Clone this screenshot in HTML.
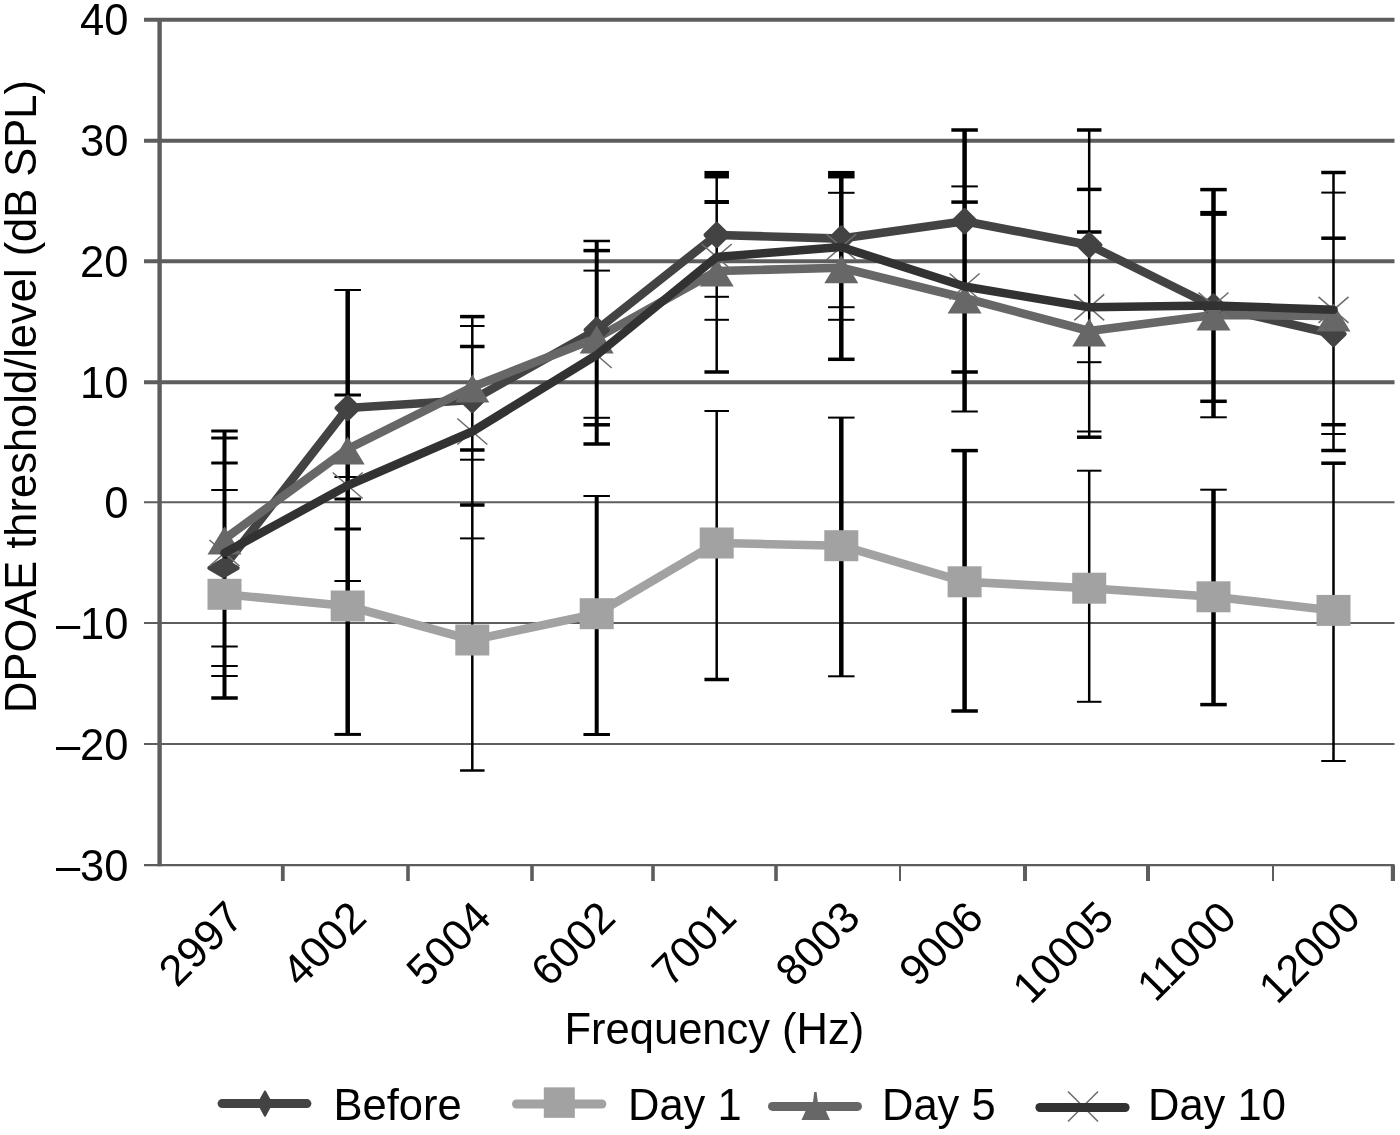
<!DOCTYPE html>
<html lang="en"><head><meta charset="utf-8"><title>DPOAE threshold/level chart</title>
<style>html,body{margin:0;padding:0;background:#fff}body{width:1400px;height:1135px;overflow:hidden}svg{display:block}text{font-family:"Liberation Sans", Arial, Helvetica, sans-serif;font-size:43.5px;fill:#000}</style></head><body>
<svg width="1400" height="1135" viewBox="0 0 1400 1135">
<defs><filter id="soft" x="0" y="0" width="100%" height="100%" filterUnits="userSpaceOnUse" color-interpolation-filters="sRGB"><feGaussianBlur stdDeviation="0.6"/></filter></defs>
<g filter="url(#soft)">
<rect width="1400" height="1135" fill="#fff"/>
<g stroke="#5d5d5d" fill="none">
<line x1="144" y1="19.8" x2="1394.5" y2="19.8" stroke-width="4.1"/>
<line x1="144" y1="140.8" x2="1394.5" y2="140.8" stroke-width="4.1"/>
<line x1="144" y1="261.3" x2="1394.5" y2="261.3" stroke-width="4.1"/>
<line x1="144" y1="382.3" x2="1394.5" y2="382.3" stroke-width="4.1"/>
<line x1="144" y1="502.3" x2="1394.5" y2="502.3" stroke-width="2"/>
<line x1="144" y1="623.1" x2="1394.5" y2="623.1" stroke-width="2"/>
<line x1="144" y1="744.1" x2="1394.5" y2="744.1" stroke-width="2"/>
<line x1="144" y1="865.1" x2="1394.5" y2="865.1" stroke-width="2.2"/>
<line x1="159.6" y1="18" x2="159.6" y2="866.2" stroke-width="4.4"/>
<line x1="282.8" y1="865" x2="282.8" y2="881" stroke-width="3.8"/>
<line x1="408" y1="865" x2="408" y2="881" stroke-width="3.6"/>
<line x1="532" y1="865" x2="532" y2="881" stroke-width="3.6"/>
<line x1="653" y1="865" x2="653" y2="881" stroke-width="3.6"/>
<line x1="776" y1="865" x2="776" y2="881" stroke-width="3.6"/>
<line x1="900" y1="865" x2="900" y2="881" stroke-width="2"/>
<line x1="1025" y1="865" x2="1025" y2="881" stroke-width="4"/>
<line x1="1148" y1="865" x2="1148" y2="881" stroke-width="4"/>
<line x1="1273" y1="865" x2="1273" y2="881" stroke-width="2"/>
<line x1="1392.9" y1="865" x2="1392.9" y2="881" stroke-width="4.2"/>
</g>
<polyline points="224.5,566 347.7,408 472.3,400 596.7,330 716.7,235 841.3,238.6 964.6,221.2 1089.2,245 1213.5,306.5 1333.5,334" fill="none" stroke="#434343" stroke-width="8.6" stroke-linejoin="round" stroke-linecap="round"/>
<polyline points="224.5,594.3 347.7,606 472.3,640 596.7,613.7 716.7,543 841.3,545.7 964.6,581.8 1089.2,588.2 1213.5,596.8 1333.5,610.4" fill="none" stroke="#a2a2a2" stroke-width="8.6" stroke-linejoin="round" stroke-linecap="round"/>
<polyline points="224.5,539 347.7,449 472.3,387 596.7,338 716.7,271 841.3,267.7 964.6,298 1089.2,331 1213.5,315 1333.5,316" fill="none" stroke="#676767" stroke-width="8.6" stroke-linejoin="round" stroke-linecap="round"/>
<g stroke="#000" fill="none">
<line x1="224.5" y1="431" x2="224.5" y2="698" stroke-width="4"/>
<line x1="211.25" y1="431" x2="237.75" y2="431" stroke-width="3"/>
<line x1="211.25" y1="438" x2="237.75" y2="438" stroke-width="3"/>
<line x1="211.25" y1="463" x2="237.75" y2="463" stroke-width="3"/>
<line x1="211.25" y1="490" x2="237.75" y2="490" stroke-width="2"/>
<line x1="211.25" y1="646.5" x2="237.75" y2="646.5" stroke-width="2"/>
<line x1="211.25" y1="666" x2="237.75" y2="666" stroke-width="2"/>
<line x1="211.25" y1="676" x2="237.75" y2="676" stroke-width="2"/>
<line x1="211.25" y1="698" x2="237.75" y2="698" stroke-width="3.5"/>
<line x1="347.7" y1="290" x2="347.7" y2="734" stroke-width="4.5"/>
<line x1="334.45" y1="290" x2="360.95" y2="290" stroke-width="2"/>
<line x1="334.45" y1="395" x2="360.95" y2="395" stroke-width="3"/>
<line x1="334.45" y1="477" x2="360.95" y2="477" stroke-width="2"/>
<line x1="334.45" y1="499" x2="360.95" y2="499" stroke-width="3"/>
<line x1="334.45" y1="529" x2="360.95" y2="529" stroke-width="3"/>
<line x1="334.45" y1="581" x2="360.95" y2="581" stroke-width="2"/>
<line x1="334.45" y1="734.4" x2="360.95" y2="734.4" stroke-width="3"/>
<line x1="472.3" y1="316" x2="472.3" y2="770" stroke-width="2.5"/>
<line x1="460.05" y1="316.6" x2="484.55" y2="316.6" stroke-width="3.5"/>
<line x1="460.05" y1="326" x2="484.55" y2="326" stroke-width="2"/>
<line x1="460.05" y1="346.5" x2="484.55" y2="346.5" stroke-width="3.5"/>
<line x1="460.05" y1="450" x2="484.55" y2="450" stroke-width="3.5"/>
<line x1="460.05" y1="459.7" x2="484.55" y2="459.7" stroke-width="2"/>
<line x1="460.05" y1="505" x2="484.55" y2="505" stroke-width="3.5"/>
<line x1="460.05" y1="538.4" x2="484.55" y2="538.4" stroke-width="2"/>
<line x1="460.05" y1="770.5" x2="484.55" y2="770.5" stroke-width="2.5"/>
<line x1="596.7" y1="241" x2="596.7" y2="444" stroke-width="4"/>
<line x1="596.7" y1="496" x2="596.7" y2="734" stroke-width="4"/>
<line x1="583.45" y1="241" x2="609.95" y2="241" stroke-width="2.5"/>
<line x1="583.45" y1="250.6" x2="609.95" y2="250.6" stroke-width="3.5"/>
<line x1="583.45" y1="270.6" x2="609.95" y2="270.6" stroke-width="2"/>
<line x1="583.45" y1="417.8" x2="609.95" y2="417.8" stroke-width="2"/>
<line x1="583.45" y1="424.8" x2="609.95" y2="424.8" stroke-width="3.5"/>
<line x1="583.45" y1="444" x2="609.95" y2="444" stroke-width="3.5"/>
<line x1="583.45" y1="496" x2="609.95" y2="496" stroke-width="2"/>
<line x1="583.45" y1="734.5" x2="609.95" y2="734.5" stroke-width="3"/>
<line x1="716.7" y1="175" x2="716.7" y2="372" stroke-width="2.5"/>
<line x1="716.7" y1="411" x2="716.7" y2="679.5" stroke-width="2.5"/>
<line x1="704.45" y1="174.7" x2="728.95" y2="174.7" stroke-width="7.5"/>
<line x1="704.45" y1="202" x2="728.95" y2="202" stroke-width="4"/>
<line x1="704.45" y1="296.8" x2="728.95" y2="296.8" stroke-width="2"/>
<line x1="704.45" y1="319.8" x2="728.95" y2="319.8" stroke-width="2"/>
<line x1="704.45" y1="372" x2="728.95" y2="372" stroke-width="3.5"/>
<line x1="704.45" y1="411" x2="728.95" y2="411" stroke-width="2"/>
<line x1="704.45" y1="679.5" x2="728.95" y2="679.5" stroke-width="3.5"/>
<line x1="841.3" y1="175" x2="841.3" y2="359" stroke-width="4.5"/>
<line x1="841.3" y1="417.6" x2="841.3" y2="676" stroke-width="4.5"/>
<line x1="828.05" y1="174.7" x2="854.55" y2="174.7" stroke-width="7.5"/>
<line x1="828.05" y1="192.8" x2="854.55" y2="192.8" stroke-width="2"/>
<line x1="828.05" y1="307.2" x2="854.55" y2="307.2" stroke-width="2"/>
<line x1="828.05" y1="319.8" x2="854.55" y2="319.8" stroke-width="2"/>
<line x1="828.05" y1="359.3" x2="854.55" y2="359.3" stroke-width="3.5"/>
<line x1="828.05" y1="417.6" x2="854.55" y2="417.6" stroke-width="2"/>
<line x1="828.05" y1="676.3" x2="854.55" y2="676.3" stroke-width="2"/>
<line x1="964.6" y1="130" x2="964.6" y2="411.5" stroke-width="4.5"/>
<line x1="964.6" y1="450.6" x2="964.6" y2="711" stroke-width="4.5"/>
<line x1="951.35" y1="130" x2="977.85" y2="130" stroke-width="3.5"/>
<line x1="951.35" y1="186.4" x2="977.85" y2="186.4" stroke-width="2"/>
<line x1="951.35" y1="202.1" x2="977.85" y2="202.1" stroke-width="3.5"/>
<line x1="951.35" y1="372" x2="977.85" y2="372" stroke-width="3.5"/>
<line x1="951.35" y1="411.5" x2="977.85" y2="411.5" stroke-width="2"/>
<line x1="951.35" y1="450.6" x2="977.85" y2="450.6" stroke-width="3.5"/>
<line x1="951.35" y1="711" x2="977.85" y2="711" stroke-width="3.5"/>
<line x1="1089.2" y1="130" x2="1089.2" y2="437" stroke-width="2.5"/>
<line x1="1089.2" y1="470.7" x2="1089.2" y2="701.8" stroke-width="2.5"/>
<line x1="1076.95" y1="130" x2="1101.45" y2="130" stroke-width="3.5"/>
<line x1="1076.95" y1="189.4" x2="1101.45" y2="189.4" stroke-width="3.5"/>
<line x1="1076.95" y1="232" x2="1101.45" y2="232" stroke-width="3.5"/>
<line x1="1076.95" y1="362.2" x2="1101.45" y2="362.2" stroke-width="2"/>
<line x1="1076.95" y1="431.5" x2="1101.45" y2="431.5" stroke-width="2"/>
<line x1="1076.95" y1="437.2" x2="1101.45" y2="437.2" stroke-width="3.5"/>
<line x1="1076.95" y1="470.7" x2="1101.45" y2="470.7" stroke-width="2"/>
<line x1="1076.95" y1="701.8" x2="1101.45" y2="701.8" stroke-width="2"/>
<line x1="1213.5" y1="190" x2="1213.5" y2="417" stroke-width="4.5"/>
<line x1="1213.5" y1="489.7" x2="1213.5" y2="704.6" stroke-width="4.5"/>
<line x1="1200.25" y1="189.6" x2="1226.75" y2="189.6" stroke-width="3.5"/>
<line x1="1200.25" y1="213.4" x2="1226.75" y2="213.4" stroke-width="5"/>
<line x1="1200.25" y1="401.3" x2="1226.75" y2="401.3" stroke-width="3.5"/>
<line x1="1200.25" y1="417.3" x2="1226.75" y2="417.3" stroke-width="2"/>
<line x1="1200.25" y1="489.7" x2="1226.75" y2="489.7" stroke-width="2"/>
<line x1="1200.25" y1="704.6" x2="1226.75" y2="704.6" stroke-width="3.5"/>
<line x1="1333.5" y1="172.5" x2="1333.5" y2="450.5" stroke-width="2.5"/>
<line x1="1333.5" y1="463" x2="1333.5" y2="761" stroke-width="2.5"/>
<line x1="1321.25" y1="172.5" x2="1345.75" y2="172.5" stroke-width="3.5"/>
<line x1="1321.25" y1="192.6" x2="1345.75" y2="192.6" stroke-width="2"/>
<line x1="1321.25" y1="238.2" x2="1345.75" y2="238.2" stroke-width="3.5"/>
<line x1="1321.25" y1="424.7" x2="1345.75" y2="424.7" stroke-width="3.5"/>
<line x1="1321.25" y1="434" x2="1345.75" y2="434" stroke-width="2"/>
<line x1="1321.25" y1="450.5" x2="1345.75" y2="450.5" stroke-width="3.5"/>
<line x1="1321.25" y1="463.2" x2="1345.75" y2="463.2" stroke-width="3.5"/>
<line x1="1321.25" y1="761" x2="1345.75" y2="761" stroke-width="2"/>
</g>
<polygon points="223.5,559.8 237.7,568 223.5,576.2 209.3,568" fill="#434343" stroke="#434343" stroke-width="4" stroke-linejoin="round"/>
<polygon points="347.7,396.8 358.9,408 347.7,419.2 336.5,408" fill="#434343" stroke="#434343" stroke-width="4" stroke-linejoin="round"/>
<polygon points="472.3,388.8 483.5,400 472.3,411.2 461.1,400" fill="#434343" stroke="#434343" stroke-width="4" stroke-linejoin="round"/>
<polygon points="596.7,318.8 607.9,330 596.7,341.2 585.5,330" fill="#434343" stroke="#434343" stroke-width="4" stroke-linejoin="round"/>
<polygon points="716.7,223.8 727.9,235 716.7,246.2 705.5,235" fill="#434343" stroke="#434343" stroke-width="4" stroke-linejoin="round"/>
<polygon points="841.3,227.4 852.5,238.6 841.3,249.8 830.1,238.6" fill="#434343" stroke="#434343" stroke-width="4" stroke-linejoin="round"/>
<polygon points="964.6,210.0 975.8,221.2 964.6,232.4 953.4,221.2" fill="#434343" stroke="#434343" stroke-width="4" stroke-linejoin="round"/>
<polygon points="1089.2,233.8 1100.4,245 1089.2,256.2 1078.0,245" fill="#434343" stroke="#434343" stroke-width="4" stroke-linejoin="round"/>
<polygon points="1213.5,295.3 1224.7,306.5 1213.5,317.7 1202.3,306.5" fill="#434343" stroke="#434343" stroke-width="4" stroke-linejoin="round"/>
<polygon points="1333.5,322.8 1344.7,334 1333.5,345.2 1322.3,334" fill="#434343" stroke="#434343" stroke-width="4" stroke-linejoin="round"/>
<rect x="207.5" y="578.8" width="34" height="31" fill="#a2a2a2"/>
<rect x="330.7" y="590.5" width="34" height="31" fill="#a2a2a2"/>
<rect x="455.3" y="624.5" width="34" height="31" fill="#a2a2a2"/>
<rect x="579.7" y="598.2" width="34" height="31" fill="#a2a2a2"/>
<rect x="699.7" y="527.5" width="34" height="31" fill="#a2a2a2"/>
<rect x="824.3" y="530.2" width="34" height="31" fill="#a2a2a2"/>
<rect x="947.6" y="566.3" width="34" height="31" fill="#a2a2a2"/>
<rect x="1072.2" y="572.7" width="34" height="31" fill="#a2a2a2"/>
<rect x="1196.5" y="581.3" width="34" height="31" fill="#a2a2a2"/>
<rect x="1316.5" y="594.9" width="34" height="31" fill="#a2a2a2"/>
<path d="M209.5 540L239.5 566M209.5 566L239.5 540" stroke="#6e6e6e" stroke-width="1.6" fill="none"/>
<path d="M332.7 472.5L362.7 498.5M332.7 498.5L362.7 472.5" stroke="#6e6e6e" stroke-width="1.6" fill="none"/>
<path d="M457.3 418.5L487.3 444.5M457.3 444.5L487.3 418.5" stroke="#6e6e6e" stroke-width="1.6" fill="none"/>
<path d="M581.7 342L611.7 368M581.7 368L611.7 342" stroke="#6e6e6e" stroke-width="1.6" fill="none"/>
<path d="M701.7 244L731.7 270M701.7 270L731.7 244" stroke="#6e6e6e" stroke-width="1.6" fill="none"/>
<path d="M826.3 234L856.3 260M826.3 260L856.3 234" stroke="#6e6e6e" stroke-width="1.6" fill="none"/>
<path d="M949.6 273.5L979.6 299.5M949.6 299.5L979.6 273.5" stroke="#6e6e6e" stroke-width="1.6" fill="none"/>
<path d="M1074.2 294.3L1104.2 320.3M1074.2 320.3L1104.2 294.3" stroke="#6e6e6e" stroke-width="1.6" fill="none"/>
<path d="M1198.5 292.5L1228.5 318.5M1198.5 318.5L1228.5 292.5" stroke="#6e6e6e" stroke-width="1.6" fill="none"/>
<path d="M1318.5 296.8L1348.5 322.8M1318.5 322.8L1348.5 296.8" stroke="#6e6e6e" stroke-width="1.6" fill="none"/>
<polygon points="224.5,526.5 241.5,554.5 207.5,554.5" fill="#676767"/>
<polygon points="347.7,436.5 364.7,464.5 330.7,464.5" fill="#676767"/>
<polygon points="472.3,374.5 489.3,402.5 455.3,402.5" fill="#676767"/>
<polygon points="596.7,325.5 613.7,353.5 579.7,353.5" fill="#676767"/>
<polygon points="716.7,258.5 733.7,286.5 699.7,286.5" fill="#676767"/>
<polygon points="841.3,255.2 858.3,283.2 824.3,283.2" fill="#676767"/>
<polygon points="964.6,285.5 981.6,313.5 947.6,313.5" fill="#676767"/>
<polygon points="1089.2,318.5 1106.2,346.5 1072.2,346.5" fill="#676767"/>
<polygon points="1213.5,302.5 1230.5,330.5 1196.5,330.5" fill="#676767"/>
<polygon points="1333.5,303.5 1350.5,331.5 1316.5,331.5" fill="#676767"/>
<polyline points="224.5,553 347.7,485.5 472.3,431.5 596.7,355 716.7,257 841.3,247 964.6,286.5 1089.2,307.3 1213.5,305.5 1333.5,309.8" fill="none" stroke="#323232" stroke-width="8.6" stroke-linejoin="round" stroke-linecap="round"/>
<text x="128.5" y="35.4" text-anchor="end">40</text>
<text x="128.5" y="156.4" text-anchor="end">30</text>
<text x="128.5" y="276.9" text-anchor="end">20</text>
<text x="128.5" y="397.9" text-anchor="end">10</text>
<text x="128.5" y="517.9" text-anchor="end">0</text>
<text x="128.5" y="638.7" text-anchor="end">–10</text>
<text x="128.5" y="759.7" text-anchor="end">–20</text>
<text x="128.5" y="880.7" text-anchor="end">–30</text>
<text transform="translate(36.4,713) rotate(-90)" textLength="633" lengthAdjust="spacingAndGlyphs">DPOAE threshold/level (dB SPL)</text>
<text transform="translate(245.5,920) rotate(-45)" text-anchor="end">2997</text>
<text transform="translate(368.7,920) rotate(-45)" text-anchor="end">4002</text>
<text transform="translate(493.3,920) rotate(-45)" text-anchor="end">5004</text>
<text transform="translate(617.7,920) rotate(-45)" text-anchor="end">6002</text>
<text transform="translate(738.7,920) rotate(-45)" text-anchor="end">7001</text>
<text transform="translate(862.3,920) rotate(-45)" text-anchor="end">8003</text>
<text transform="translate(985.6,920) rotate(-45)" text-anchor="end">9006</text>
<text transform="translate(1116.2,920) rotate(-45)" text-anchor="end">10005</text>
<text transform="translate(1238.5,920) rotate(-45)" text-anchor="end">11000</text>
<text transform="translate(1362.5,920) rotate(-45)" text-anchor="end">12000</text>
<text x="564.5" y="1043.6" font-size="43.1">Frequency (Hz)</text>
<line x1="222.1" y1="1103.6" x2="306.9" y2="1103.6" stroke="#434343" stroke-width="9" stroke-linecap="round"/>
<polygon points="265,1091.5 271.6,1103.6 265,1115.7 258.4,1103.6" fill="#434343" stroke="#434343" stroke-width="2" stroke-linejoin="round"/>
<line x1="516.5" y1="1104" x2="601.9" y2="1104" stroke="#a2a2a2" stroke-width="9" stroke-linecap="round"/>
<rect x="543.8" y="1087.35" width="31" height="30.5" fill="#a2a2a2"/>
<line x1="772.5" y1="1106.4" x2="857.5" y2="1106.4" stroke="#676767" stroke-width="9" stroke-linecap="round"/>
<path d="M814.2 1092h2.4l1.2 10h-4.8zM806 1110h19.5l4.5 10h-28.5z" fill="#676767"/>
<path d="M1068 1091.5L1098 1121.5M1068 1121.5L1098 1091.5" stroke="#6e6e6e" stroke-width="1.6" fill="none"/>
<line x1="1039.9" y1="1107.5" x2="1125.1" y2="1107.5" stroke="#323232" stroke-width="9" stroke-linecap="round"/>
<text x="333.5" y="1120" font-size="44.3">Before</text>
<text x="628" y="1120" font-size="44.3">Day 1</text>
<text x="882" y="1120" font-size="44.3">Day 5</text>
<text x="1148" y="1120" font-size="44.3">Day 10</text>
</g></svg></body></html>
